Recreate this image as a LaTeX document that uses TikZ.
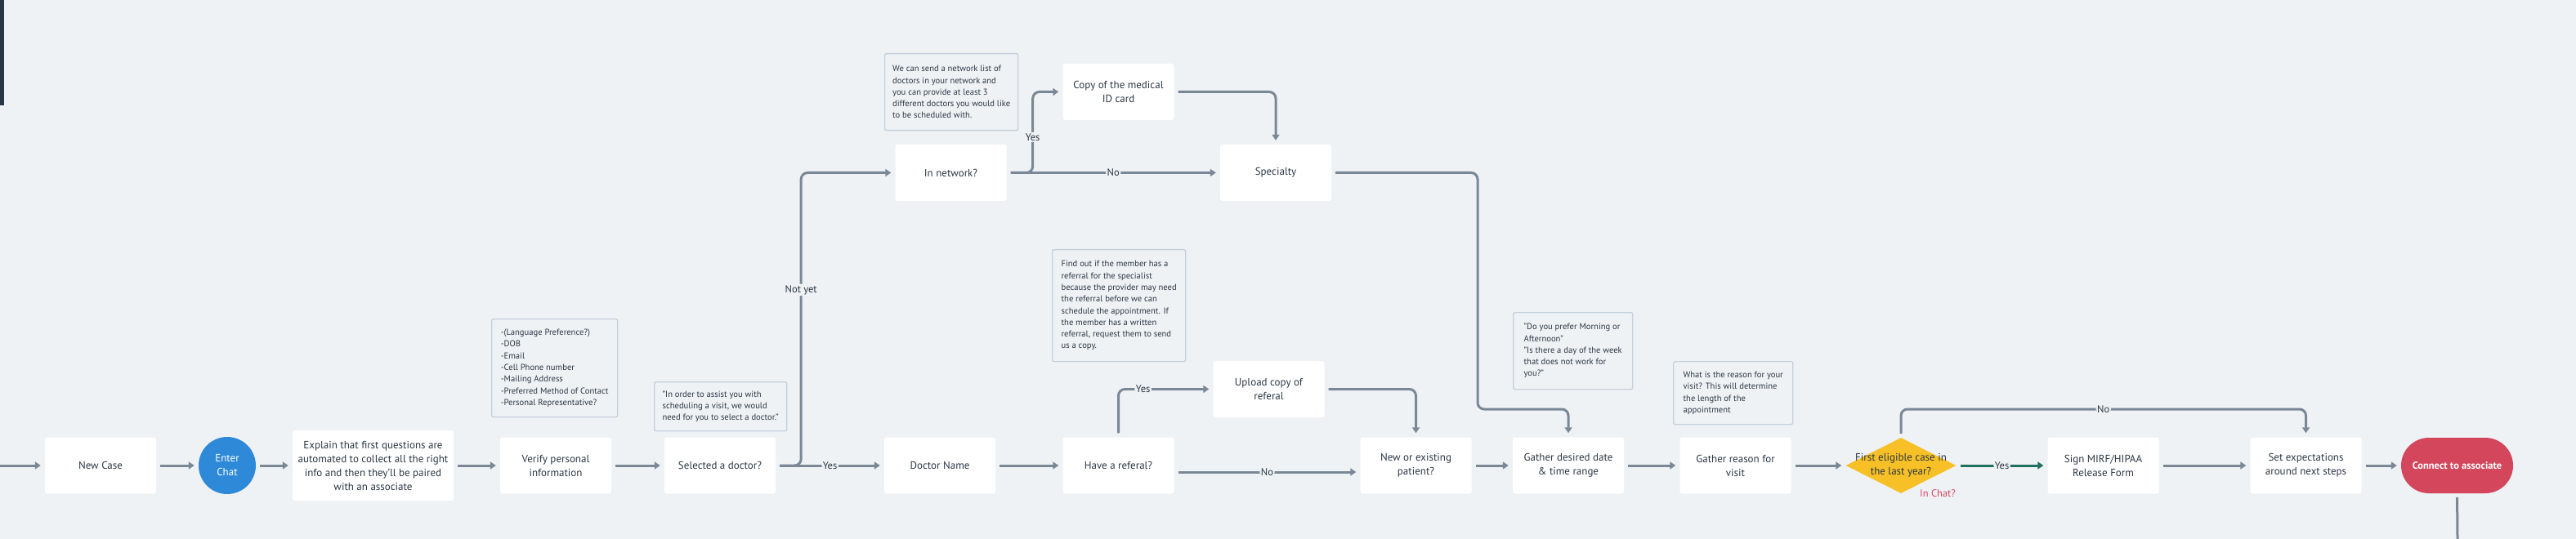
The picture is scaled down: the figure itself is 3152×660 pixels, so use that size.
\documentclass[tikz,border=0pt]{standalone}
\usepackage{fontspec}
\setmainfont{PT Sans}
\usetikzlibrary{arrows.meta,shapes.geometric,calc}
\definecolor{bg}{RGB}{239,242,245}
\definecolor{ln}{RGB}{122,136,150}
\definecolor{txt}{RGB}{43,55,68}
\definecolor{notebd}{RGB}{197,208,220}
\definecolor{chatblue}{RGB}{46,137,216}
\definecolor{dyellow}{RGB}{246,192,38}
\definecolor{cred}{RGB}{212,70,92}
\definecolor{lred}{RGB}{214,69,96}
\definecolor{gr}{RGB}{30,112,96}
\definecolor{barc}{RGB}{38,54,69}
\begin{document}
\begin{tikzpicture}[x=1pt,y=-1pt,
  box/.style={fill=white, rounded corners=3pt, minimum width=136pt, minimum height=69pt,
    align=center, text=txt, font=\fontsize{13}{17}\selectfont, inner sep=2pt},
  note/.style={draw=notebd, line width=1.4pt, fill=bg, rounded corners=2pt, anchor=north west,
    align=left, text=txt, font=\fontsize{10.6}{14.3}\selectfont, inner xsep=4pt, inner ysep=4pt},
  arr/.style={draw=ln, line width=3pt, -{Triangle[length=7pt,width=9pt]},
    shorten >=5pt, shorten <=5pt, rounded corners=8pt},
  lbl/.style={fill=bg, text=txt, font=\fontsize{12.5}{14}\selectfont, inner sep=1.5pt},
]
\useasboundingbox (0,0) rectangle (3152,660);
\fill[bg] (0,0) rectangle (3152,660);
\fill[barc] (0,0) rectangle (5,129);

% notes
\node[note, minimum width=154pt, minimum height=120pt] (n1) at (601,390)
  {-(Language Preference?)\\-DOB\\-Email\\-Cell Phone number\\-Mailing Address\\-Preferred Method of Contact\\-Personal Representative?};
\node[note, minimum width=162pt, minimum height=60pt] (n2) at (800,467)
  {"In order to assist you with\\scheduling a visit, we would\\need for you to select a doctor."};
\node[note, minimum width=163pt, minimum height=94pt] (n3) at (1082,65)
  {We can send a network list of\\doctors in your network and\\you can provide at least 3\\different doctors you would like\\to be scheduled with.};
\node[note, minimum width=163pt, minimum height=137pt] (n4) at (1287,305)
  {Find out if the member has a\\referral for the specialist\\because the provider may need\\the referral before we can\\schedule the appointment. If\\the member has a written\\referral, request them to send\\us a copy.};
\node[note, minimum width=146pt, minimum height=94pt] (n5) at (1851,382)
  {"Do you prefer Morning or\hspace{8pt}\\Afternoon"\\"Is there a day of the week\\that does not work for\\you?"};
\node[note, minimum width=146pt, minimum height=77pt] (n6) at (2047,442)
  {What is the reason for your\\visit? This will determine\\the length of the\\appointment};

% main nodes
\node[box] (nc) at (123,570) {New Case};
\node[circle, fill=chatblue, minimum size=70pt, inner sep=0pt, text=white, align=center,
  font=\fontsize{13}{17}\selectfont] (chat) at (278,570) {Enter\\Chat};
\node[box, minimum width=197pt, minimum height=86pt] (exp) at (456.5,570)
  {Explain that first questions are\\automated to collect all the right\\info and then they'll be paired\\with an associate};
\node[box] (ver) at (680,570) {Verify personal\\information};
\node[box] (sel) at (881,570) {Selected a doctor?};
\node[box] (doc) at (1150,570) {Doctor Name};
\node[box] (hav) at (1368.5,570) {Have a referal?};
\node[box] (new) at (1732.5,570) {New or existing\\patient?};
\node[box] (date) at (1919,570) {Gather desired date\\\& time range};
\node[box] (rea) at (2123.5,570) {Gather reason for\\visit};
\node[diamond, fill=dyellow, minimum width=135pt, minimum height=68pt, inner sep=0pt,
  label={[align=center, text=txt, font=\fontsize{13}{17}\selectfont]center:First eligible case in\\the last year?}] (dia) at (2326,570) {};
\node[text=lred, font=\fontsize{12.5}{14}\selectfont, inner sep=0pt] (inchat) at (2371,604) {In Chat?};
\node[box] (sign) at (2573.5,570) {Sign MIRF/HIPAA\\Release Form};
\node[box] (set) at (2821.5,570) {Set expectations\\around next steps};
\node[fill=cred, rounded corners=34pt, minimum width=137pt, minimum height=68pt, text=white,
  font=\fontsize{12.5}{15}\selectfont\bfseries] (con) at (3006.5,570) {Connect to associate};
\node[box] (innet) at (1163.5,211.5) {In network?};
\node[box] (spec) at (1561,211.5) {Specialty};
\node[box] (copy) at (1368.5,112.5) {Copy of the medical\\ID card};
\node[box] (up) at (1552.5,476.5) {Upload copy of\\referal};

\coordinate (in) at (0,570);
\coordinate (out) at (3007,660);
\coordinate (sb1) at (1808,501);
\coordinate (nob) at (2326,501);

% connectors
\draw[arr, shorten <=0pt] (in) -- (nc.west);
\draw[arr] (nc.east) -- (chat.west);
\draw[arr] (chat.east) -- (exp.west);
\draw[arr] (exp.east) -- (ver.west);
\draw[arr] (ver.east) -- (sel.west);
\draw[arr] (sel.east) -- node[lbl]{Yes} (doc.west);
\draw[arr] (sel.east) -- ++(31,0) |- node[lbl,pos=0.3]{Not yet} (innet.west);
\draw[arr] (innet.east) -- node[lbl]{No} (spec.west);
\draw[arr] (innet.east) -- ++(32,0) |- node[lbl,pos=0.22]{Yes} (copy.west);
\draw[arr] (copy.east) -| (spec.north);
\draw[arr] (spec.east) -| (sb1) -| (date.north);
\draw[arr] (doc.east) -- (hav.west);
\draw[arr] (hav.north) |- node[lbl,pos=0.63]{Yes} (up.west);
\draw[arr] ($(hav.east)+(0,8)$) -- node[lbl]{No} ($(new.west)+(0,8)$);
\draw[arr] (up.east) -| (new.north);
\draw[arr] (new.east) -- (date.west);
\draw[arr] (date.east) -- (rea.west);
\draw[arr] (rea.east) -- (dia.west);
\draw[arr, draw=gr] (dia.east) -- node[lbl]{Yes} (sign.west);
\draw[arr] (dia.north) -- (nob) -| node[lbl,pos=0.25]{No} (set.north);
\draw[arr] (sign.east) -- (set.west);
\draw[arr] (set.east) -- (con.west);
\draw[draw=ln, line width=3pt, shorten <=5pt] (con.south) -- (out);
\end{tikzpicture}
\end{document}
